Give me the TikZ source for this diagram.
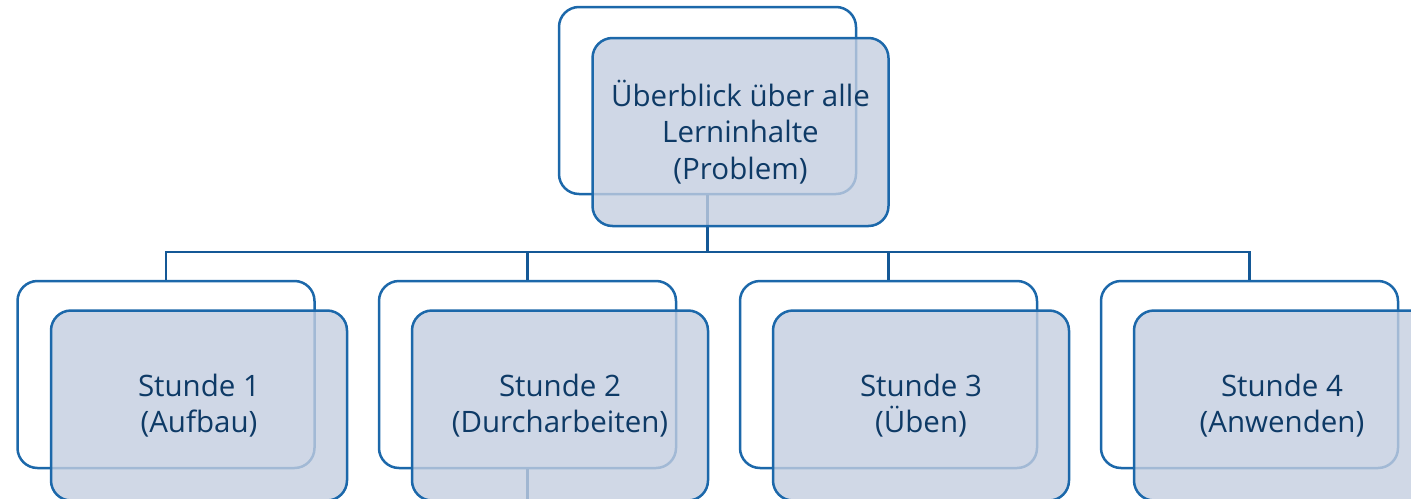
\documentclass[tikz,border=0pt]{standalone}
\usepackage{fontspec}
\setmainfont{Open Sans}
\definecolor{boxline}{RGB}{28,104,170}
\definecolor{linkline}{RGB}{20,88,150}
\definecolor{boxfill}{RGB}{196,206,224}
\definecolor{boxtext}{RGB}{14,58,102}
\tikzset{
  back/.style={draw=boxline, line width=2.5pt, rounded corners=20pt, fill=white,
    minimum width=297pt, minimum height=187pt},
  front/.style={draw=boxline, line width=2.5pt, rounded corners=20pt, fill=boxfill,
    fill opacity=0.8, text opacity=1, text=boxtext, align=center,
    minimum width=296pt, minimum height=190pt,
    font=\fontsize{29.5}{36.5}\selectfont},
  link/.style={draw=linkline, line width=2.5pt}
}
\begin{document}
\begin{tikzpicture}[x=1pt, y=-1pt]
      \useasboundingbox (0,0) rectangle (1411,498);
      \clip (0,0) rectangle (1411,498);
      \node[back] (pb) at (707.5,100.5) {};
      \node[back] (ab) at (166,374.5) {};
      \node[back] (db) at (527.5,374.5) {};
      \node[back] (ub) at (888.5,374.5) {};
      \node[back] (wb) at (1249.5,374.5) {};
      \coordinate (bus) at (0,252);
      \coordinate (down) at (527.5,520);
      \draw[link] (pb.south) -- (pb.south |- bus) -| (ab.north);
      \draw[link] (pb.south |- bus) -| (db.north);
      \draw[link] (pb.south |- bus) -| (ub.north);
      \draw[link] (pb.south |- bus) -| (wb.north);
      \draw[link] (db.south) -- (down);
      \node[front, minimum height=188pt] (p) at (740.5,132) {Überblick über alle\\Lerninhalte\\(Problem)};
      \node[front] (a) at (199,405.5) {Stunde 1\\(Aufbau)};
      \node[front] (d) at (560,405.5) {Stunde 2\\(Durcharbeiten)};
      \node[front] (u) at (921,405.5) {Stunde 3\\(Üben)};
      \node[front] (w) at (1282,405.5) {Stunde 4\\(Anwenden)};
\end{tikzpicture}
\end{document}
